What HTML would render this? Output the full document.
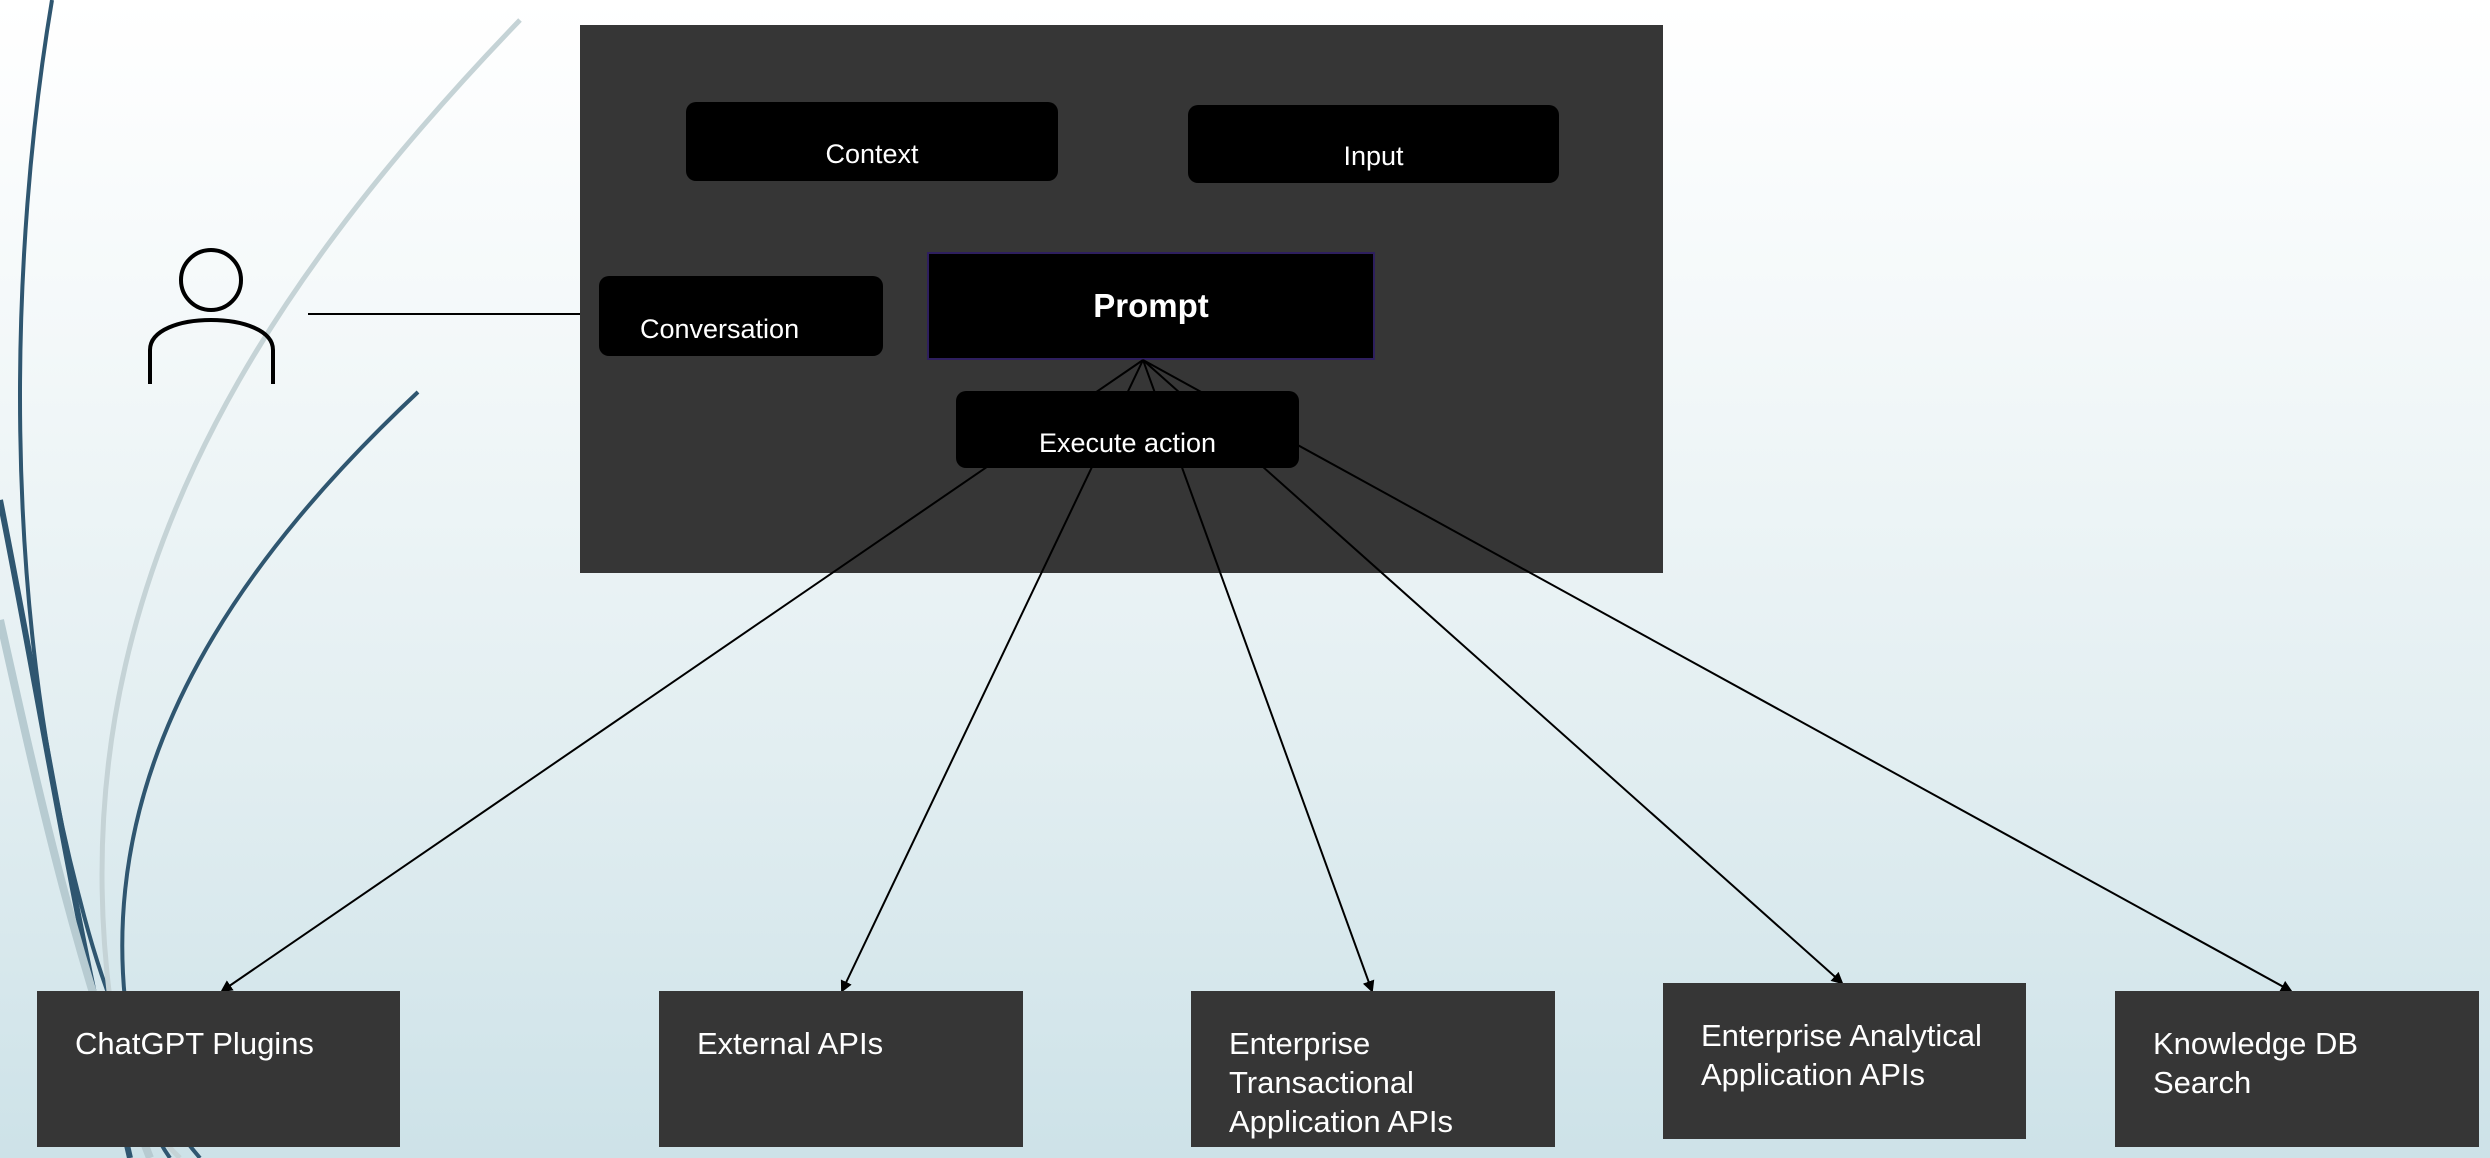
<!DOCTYPE html>
<html><head><meta charset="utf-8"><style>
html,body{margin:0;padding:0}
body{width:2490px;height:1158px;position:relative;overflow:hidden;font-family:"Liberation Sans","DejaVu Sans",sans-serif;
background:linear-gradient(to bottom,#ffffff 0%,#f3f8f9 30%,#e2eef1 65%,#cde2e8 100%);}
.b{position:absolute;box-sizing:border-box;color:#fff;}
.r{background:#000;border-radius:10px;text-align:center;font-size:27px;}
.sq{background:#363636;font-size:31px;line-height:39px;padding:33px 0 0 38px;}
svg{position:absolute;left:0;top:0}
</style></head><body>
<svg width="2490" height="1158">
<path d="M52,0 C10,250 0,600 80,900 C110,1020 150,1100 200,1158" stroke="#2f5670" stroke-width="4" fill="none"/>
<path d="M520,20 C250,300 60,600 110,1000 C120,1080 150,1130 180,1158" stroke="#c5d3d6" stroke-width="5" fill="none"/>
<path d="M418,392 C250,550 100,750 125,1000 C130,1080 150,1130 170,1158" stroke="#2f5670" stroke-width="4" fill="none"/>
<path d="M0,500 C40,700 70,900 130,1158" stroke="#2f5670" stroke-width="6" fill="none"/>
<path d="M0,620 C40,800 80,980 150,1158" stroke="#b7cbd1" stroke-width="8" fill="none"/>
<rect x="580" y="25" width="1083" height="548" fill="#363636"/>
<circle cx="211" cy="280" r="30" fill="none" stroke="#000" stroke-width="4"/>
<path d="M150,384 V350 C150,330 180,320 211,320 C242,320 273,330 273,350 V384" fill="none" stroke="#000" stroke-width="4"/>
<line x1="308" y1="314" x2="580" y2="314" stroke="#000" stroke-width="2"/>
</svg>
<div class="b r" style="left:686px;top:102px;width:372px;height:79px;line-height:104px">Context</div>
<div class="b r" style="left:1188px;top:105px;width:371px;height:78px;line-height:102px">Input</div>
<div class="b r" style="left:599px;top:276px;width:284px;height:80px;line-height:106px;text-align:left;padding-left:41px">Conversation</div>
<div class="b" style="left:927px;top:252px;width:448px;height:108px;background:#000;border:2px solid #2e1f5e;text-align:center;line-height:104px;font-size:33px;font-weight:bold">Prompt</div>
<svg width="2490" height="1158">
<defs><marker id="a" markerWidth="12" markerHeight="12" refX="10" refY="6" orient="auto" markerUnits="userSpaceOnUse"><path d="M0,0 L12,6 L0,12 z" fill="#000"/></marker></defs>
<g stroke="#000" stroke-width="2" marker-end="url(#a)">
<line x1="1143" y1="360" x2="222" y2="991"/>
<line x1="1143" y1="360" x2="842" y2="991"/>
<line x1="1143" y1="360" x2="1372" y2="991"/>
<line x1="1143" y1="360" x2="1842" y2="983"/>
<line x1="1143" y1="360" x2="2291" y2="991"/>
</g></svg>
<div class="b r" style="left:956px;top:391px;width:343px;height:77px;line-height:104px">Execute action</div>
<div class="b sq" style="left:37px;top:991px;width:363px;height:156px">ChatGPT Plugins</div>
<div class="b sq" style="left:659px;top:991px;width:364px;height:156px">External APIs</div>
<div class="b sq" style="left:1191px;top:991px;width:364px;height:156px">Enterprise<br>Transactional<br>Application APIs</div>
<div class="b sq" style="left:1663px;top:983px;width:363px;height:156px">Enterprise Analytical<br>Application APIs</div>
<div class="b sq" style="left:2115px;top:991px;width:364px;height:156px">Knowledge DB<br>Search</div>
</body></html>
